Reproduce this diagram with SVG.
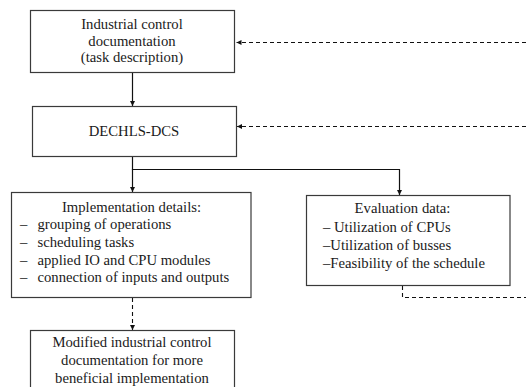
<svg xmlns="http://www.w3.org/2000/svg" width="526" height="387" viewBox="0 0 526 387">
<defs>
<style>
.box{fill:#fff;stroke:#3a3a3a;stroke-width:1.2}
.t{font-family:"Liberation Serif","Times New Roman",serif;font-size:14.7px;fill:#1a1a1a}
.c{text-anchor:middle}
.ln{fill:none;stroke:#111;stroke-width:1.2}
.dl{fill:none;stroke:#111;stroke-width:1.1;stroke-dasharray:4 3}
</style>
<marker id="ah" viewBox="0 0 10 10" refX="10" refY="5" markerWidth="5" markerHeight="5" orient="auto" markerUnits="userSpaceOnUse">
<path d="M0,0 L10,5 L0,10 z" fill="#111"/>
</marker>
</defs>
<rect width="526" height="387" fill="#fff"/>
<g id="connectors">
<line class="ln" x1="132.5" y1="73" x2="132.5" y2="106" marker-end="url(#ah)"/>
<polyline class="ln" points="132.5,157 132.5,169.5 399.5,169.5 399.5,195" marker-end="url(#ah)"/>
<line class="ln" x1="132.5" y1="169" x2="132.5" y2="192" marker-end="url(#ah)"/>
<line class="dl" x1="132.5" y1="298" x2="132.5" y2="330" marker-end="url(#ah)"/>
<polyline class="dl" points="402.5,286 402.5,297.5 526,297.5"/>
<line class="dl" x1="526" y1="42.5" x2="236.5" y2="42.5" marker-end="url(#ah)"/>
<line class="dl" x1="526" y1="126.5" x2="237" y2="126.5" marker-end="url(#ah)"/>
</g>
<g id="task">
<rect class="box" x="30.5" y="10.5" width="204" height="62"/>
<text class="t c" x="132" y="29">Industrial control</text>
<text class="t c" x="132" y="45.5">documentation</text>
<text class="t c" x="132" y="62">(task description)</text>
</g>
<g id="dechls">
<rect class="box" x="32.5" y="106.5" width="204" height="50"/>
<text class="t c" x="134" y="136">DECHLS-DCS</text>
</g>
<g id="impl">
<rect class="box" x="11.5" y="192.5" width="239.5" height="105"/>
<text class="t c" x="131.5" y="212">Implementation details:</text>
<text class="t" x="20" y="229">–</text><text class="t" x="37.5" y="229">grouping of operations</text>
<text class="t" x="20" y="247">–</text><text class="t" x="37.5" y="247">scheduling tasks</text>
<text class="t" x="20" y="265">–</text><text class="t" x="37.5" y="265">applied IO and CPU modules</text>
<text class="t" x="20" y="282">–</text><text class="t" x="37.5" y="282">connection of inputs and outputs</text>
</g>
<g id="eval">
<rect class="box" x="306.5" y="195.5" width="203.5" height="90"/>
<text class="t c" x="402.5" y="213">Evaluation data:</text>
<text class="t" x="323" y="231.5">– Utilization of CPUs</text>
<text class="t" x="323" y="250">–Utilization of busses</text>
<text class="t" x="323" y="268">–Feasibility of the schedule</text>
</g>
<g id="modified">
<rect class="box" x="30.5" y="330.5" width="204" height="70"/>
<text class="t c" x="132" y="347">Modified industrial control</text>
<text class="t c" x="132" y="365">documentation for more</text>
<text class="t c" x="132" y="383">beneficial implementation</text>
</g>
</svg>
